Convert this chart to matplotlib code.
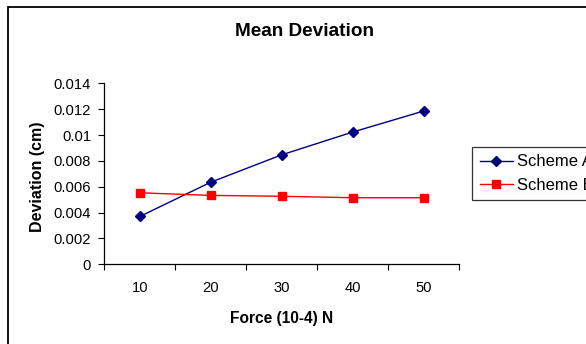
import matplotlib.pyplot as plt
from matplotlib.patches import Rectangle

plt.rcParams['font.family'] = ['Liberation Sans', 'DejaVu Sans']

# values
forces = [10, 20, 30, 40, 50]
scheme_a = [0.0037, 0.00635, 0.00847, 0.01023, 0.01186]
scheme_b = [0.00553, 0.00533, 0.00526, 0.00515, 0.00515]
y_ticks = [0, 0.002, 0.004, 0.006, 0.008, 0.01, 0.012, 0.014]
y_tick_labels = ['0', '0.002', '0.004', '0.006', '0.008', '0.01', '0.012', '0.014']

W, H = 586, 344
L, R, T, B = 104.3, 459.3, 83.3, 264.3
fig = plt.figure(figsize=(W / 100, H / 100), dpi=100)
ax = fig.add_axes([L / W, 1 - B / H, (R - L) / W, (B - T) / H])

# outer chart border (runs off the right and bottom edges, as in the original)
fig.patches.append(Rectangle((8 / W, -0.1), 1.2, 1 - 7 / H + 0.1, transform=fig.transFigure,
                             fill=False, edgecolor='black', linewidth=1.3))

ax.plot(forces, scheme_a, color='#000080', marker='D', markersize=5, linewidth=1, label='Scheme A')
ax.plot(forces, scheme_b, color='#ff0000', marker='s', markersize=5.5, linewidth=1, label='Scheme B')

ax.set_xlim(5, 55)
ax.set_ylim(0, 0.014)
ax.set_xticks([5, 15, 25, 35, 45, 55])
ax.set_xticklabels([])
ax.set_xticks(forces, minor=True)
ax.set_xticklabels([str(f) for f in forces], minor=True)
ax.tick_params(axis='x', which='minor', length=0, pad=12, labelsize=10.6)
ax.tick_params(axis='x', which='major', length=4, direction='out', color='black')
ax.set_yticks(y_ticks)
ax.set_yticklabels(y_tick_labels)
ax.tick_params(axis='y', length=4, direction='out', labelsize=10.6, pad=5.5)

for s in ['top', 'right']:
    ax.spines[s].set_visible(False)
for s in ['left', 'bottom']:
    ax.spines[s].set_color('black')
    ax.spines[s].set_linewidth(0.9)

ax.set_xlabel('Force (10-4) N', fontweight='bold', fontsize=11.2, va='center')
ax.xaxis.set_label_coords((282 - L) / (R - L), (B - 318) / (B - T))
ax.set_ylabel('Deviation (cm)', fontweight='bold', fontsize=11.5, va='center')
ax.yaxis.set_label_coords((38 - L) / (R - L), (B - 176.7) / (B - T))
fig.text(304.5 / W, 1 - 31.7 / H, 'Mean Deviation', ha='center', va='center',
         fontweight='bold', fontsize=13.7)

leg = ax.legend(loc='upper left', bbox_to_anchor=(472 / W, 1 - 147 / H),
                bbox_transform=fig.transFigure, frameon=True, fancybox=False,
                fontsize=12, handlelength=2.0, borderpad=0.45, labelspacing=0.5,
                handletextpad=0.25, borderaxespad=0)
leg.get_frame().set_edgecolor('black')
leg.get_frame().set_linewidth(0.9)

fig.savefig('out.png', dpi=100)
